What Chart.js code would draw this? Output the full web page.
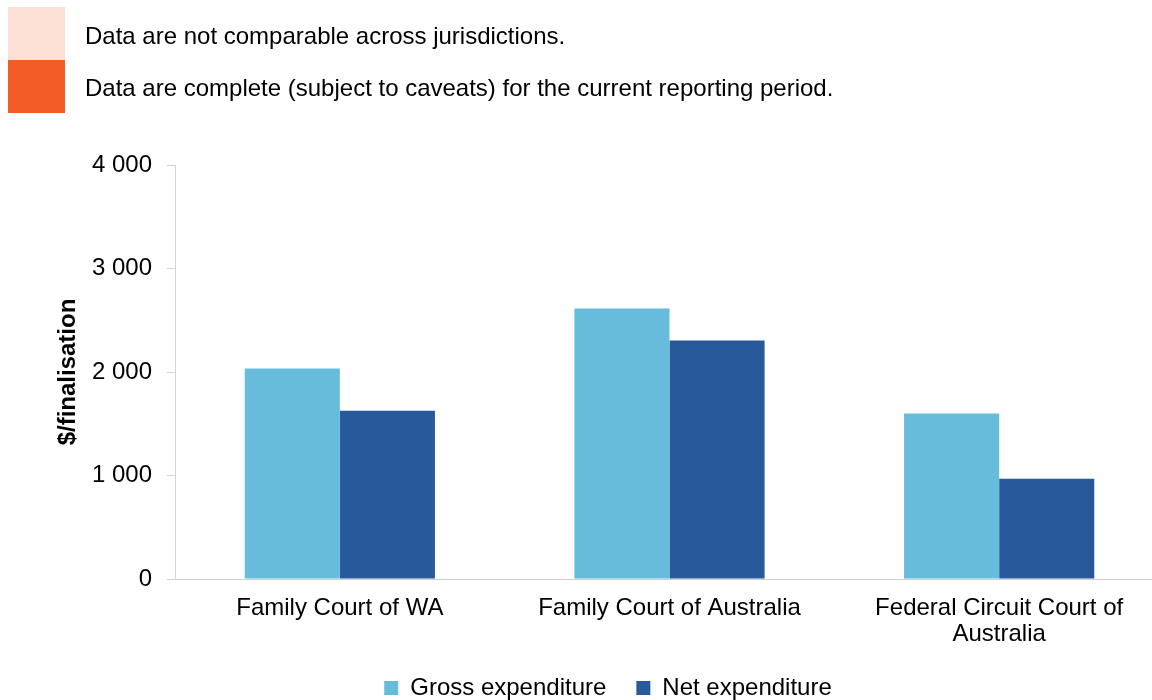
<!DOCTYPE html>
<html>
<head>
<meta charset="utf-8">
<script src="https://cdn.jsdelivr.net/npm/chart.js@4.4.1/dist/chart.umd.min.js"></script>
<style>
  html, body { margin: 0; padding: 0; background: #fff; overflow: hidden; width: 1152px; height: 700px; }
  #wrap { position: absolute; left: 0; top: 0; width: 1164px; height: 710px; }
  .box { position: absolute; left: 8px; width: 57px; height: 53px; }
  .note { position: absolute; left: 85px; font-family: 'Liberation Sans', Arial, sans-serif; font-size: 24px; color: #000; line-height: 28px; white-space: nowrap; }
</style>
</head>
<body>
<div id="wrap"><canvas id="c"></canvas></div>
<div class="box" style="top:7px;background:#FCDFD5;"></div>
<div class="box" style="top:60px;background:#F35B27;"></div>
<div class="note" style="top:22px;">Data are not comparable across jurisdictions.</div>
<div class="note" style="top:74px;">Data are complete (subject to caveats) for the current reporting period.</div>
<script>
const categories = [
  ['Family Court of WA'],
  ['Family Court of Australia'],
  ['Federal Circuit Court of', 'Australia']
];
const seriesNames = ['Gross expenditure', 'Net expenditure'];
const grossValues = [2034, 2613, 1600];
const netValues = [1625, 2304, 968];
const yTickValues = [0, 1000, 2000, 3000, 4000];
const yTickLabels = ['0', '1 000', '2 000', '3 000', '4 000'];
const yAxisTitle = '$/finalisation';

const FONT = "'Liberation Sans', Arial, sans-serif";

const legendShift = {
  id: 'legendShift',
  afterLayout(chart) {
    if (chart.legend) {
      chart.legend.left += 26;
      chart.legend.right += 26;
    }
  }
};

new Chart(document.getElementById('c'), {
  type: 'bar',
  data: {
    labels: categories,
    datasets: [
      { label: seriesNames[0], data: grossValues, backgroundColor: '#67BCDB', borderWidth: 0 },
      { label: seriesNames[1], data: netValues, backgroundColor: '#27599B', borderWidth: 0 }
    ]
  },
  plugins: [legendShift],
  options: {
    responsive: true,
    maintainAspectRatio: false,
    animation: false,
    events: [],
    layout: { padding: { top: 165, left: 0, right: 0, bottom: 0 } },
    datasets: { bar: { categoryPercentage: 0.577, barPercentage: 1.0 } },
    plugins: {
      tooltip: { enabled: false },
      legend: {
        position: 'bottom',
        labels: {
          font: { family: FONT, size: 24 },
          color: '#000',
          boxWidth: 14,
          boxHeight: 14,
          padding: 30
        }
      }
    },
    scales: {
      x: {
        grid: { display: false, drawTicks: false },
        border: { display: true, color: '#CFCFCF', width: 1 },
        ticks: {
          font: { family: FONT, size: 24, lineHeight: 1.1 },
          color: '#000',
          padding: 16,
          maxRotation: 0,
          autoSkip: false
        },
        afterFit(scale) { scale.height = 67; }
      },
      y: {
        min: 0,
        max: 4000,
        afterBuildTicks(scale) { scale.ticks = yTickValues.map(v => ({ value: v })); },
        grid: { drawOnChartArea: false, drawTicks: true, tickLength: 8, color: '#D4D4D4' },
        border: { display: true, color: '#D4D4D4', width: 1 },
        ticks: {
          font: { family: FONT, size: 24 },
          color: '#000',
          padding: 15,
          callback(value) { const i = yTickValues.indexOf(value); return i >= 0 ? yTickLabels[i] : ''; }
        },
        title: {
          display: true,
          text: yAxisTitle,
          font: { family: FONT, size: 24, weight: 'bold' },
          color: '#000',
          padding: { top: 54, bottom: 0 }
        },
        afterFit(scale) { scale.width = 175; }
      }
    }
  }
});
</script>
</body>
</html>
